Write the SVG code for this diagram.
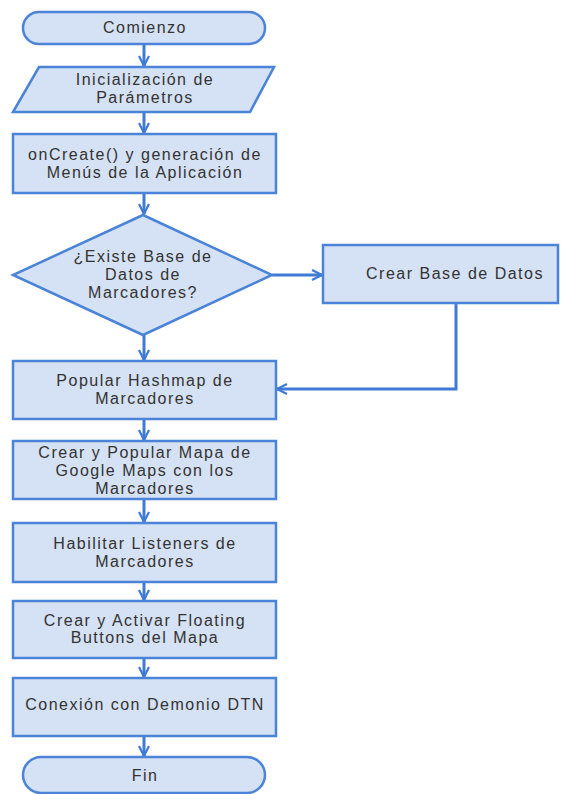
<svg xmlns="http://www.w3.org/2000/svg" width="573" height="794" viewBox="0 0 573 794">
  <defs>
    <marker id="arrow" viewBox="0 0 12 12" refX="11" refY="6" markerWidth="12" markerHeight="12" markerUnits="userSpaceOnUse" orient="auto">
      <path d="M1,1 L11,6 L1,11" fill="none" stroke="#3f7bd4" stroke-width="2.2" stroke-linejoin="miter"/>
    </marker>
    <style>
      .shape { fill: #d5e1f4; stroke: #4a83d8; stroke-width: 2.5; }
      .label { font-family: "Liberation Sans", Arial, sans-serif; font-size: 16px; fill: #333333; text-anchor: middle; letter-spacing: 1.5px; }
      .conn { fill: none; stroke: #3f7bd4; stroke-width: 3; marker-end: url(#arrow); }
    </style>
  </defs>
  <rect width="573" height="794" fill="#ffffff"/>

  <g id="connectors">
    <line class="conn" x1="144" y1="44" x2="144" y2="66"/>
    <line class="conn" x1="144" y1="112" x2="144" y2="133"/>
    <line class="conn" x1="144" y1="193" x2="144" y2="214"/>
    <line class="conn" x1="272" y1="275" x2="322" y2="275"/>
    <line class="conn" x1="144" y1="335" x2="144" y2="360"/>
    <polyline class="conn" points="456,303 456,389 277,389"/>
    <line class="conn" x1="144" y1="419" x2="144" y2="440"/>
    <line class="conn" x1="144" y1="499" x2="144" y2="522"/>
    <line class="conn" x1="144" y1="582" x2="144" y2="600"/>
    <line class="conn" x1="144" y1="658" x2="144" y2="677"/>
    <line class="conn" x1="144" y1="736" x2="144" y2="756"/>
  </g>

  <g id="comienzo">
    <rect class="shape" x="23" y="12" width="242" height="32" rx="16"/>
    <text class="label" x="145" y="33">Comienzo</text>
  </g>

  <g id="inicializacion">
    <polygon class="shape" points="39,67 274,67 250,112 13,112"/>
    <text class="label" x="145" y="85">Inicialización de</text>
    <text class="label" x="145" y="103">Parámetros</text>
  </g>

  <g id="oncreate">
    <rect class="shape" x="13" y="134" width="263" height="59"/>
    <text class="label" x="145" y="160">onCreate() y generación de</text>
    <text class="label" x="145" y="178">Menús de la Aplicación</text>
  </g>

  <g id="existe-bd">
    <polygon class="shape" points="143,215 272,275 143,335 13,275"/>
    <text class="label" x="143" y="262">¿Existe Base de</text>
    <text class="label" x="143" y="280">Datos de</text>
    <text class="label" x="143" y="298">Marcadores?</text>
  </g>

  <g id="crear-bd">
    <rect class="shape" x="323" y="245" width="235" height="58"/>
    <text class="label" x="455" y="279">Crear Base de Datos</text>
  </g>

  <g id="popular-hashmap">
    <rect class="shape" x="13" y="361" width="263" height="58"/>
    <text class="label" x="145" y="386">Popular Hashmap de</text>
    <text class="label" x="145" y="404">Marcadores</text>
  </g>

  <g id="crear-mapa">
    <rect class="shape" x="13" y="441" width="263" height="58"/>
    <text class="label" x="145" y="458">Crear y Popular Mapa de</text>
    <text class="label" x="145" y="476">Google Maps con los</text>
    <text class="label" x="145" y="494">Marcadores</text>
  </g>

  <g id="listeners">
    <rect class="shape" x="13" y="523" width="263" height="59"/>
    <text class="label" x="145" y="549">Habilitar Listeners de</text>
    <text class="label" x="145" y="567">Marcadores</text>
  </g>

  <g id="floating-buttons">
    <rect class="shape" x="13" y="601" width="263" height="57"/>
    <text class="label" x="145" y="626">Crear y Activar Floating</text>
    <text class="label" x="145" y="643">Buttons del Mapa</text>
  </g>

  <g id="demonio-dtn">
    <rect class="shape" x="13" y="678" width="263" height="58"/>
    <text class="label" x="145" y="710">Conexión con Demonio DTN</text>
  </g>

  <g id="fin">
    <rect class="shape" x="23" y="757" width="242" height="36" rx="18"/>
    <text class="label" x="145" y="781">Fin</text>
  </g>
</svg>
